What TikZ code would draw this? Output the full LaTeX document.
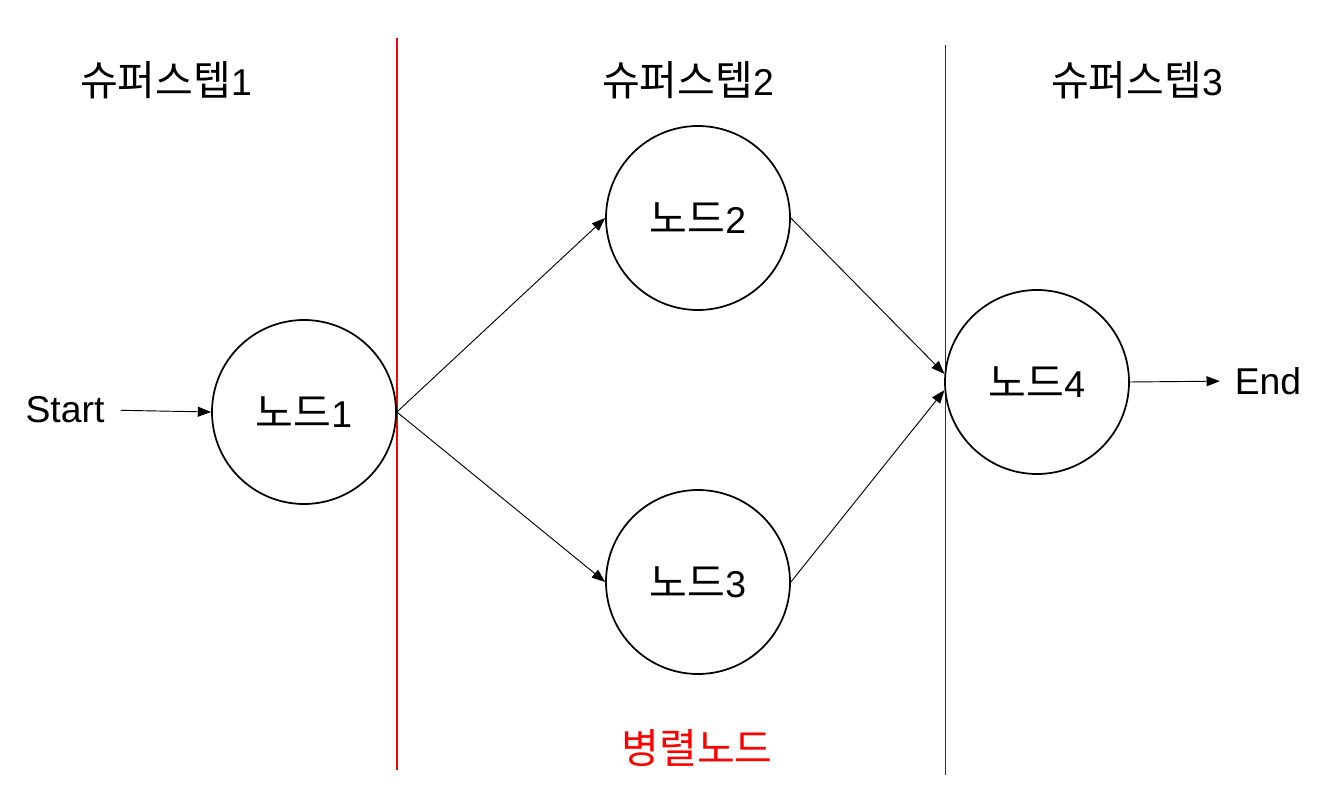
\documentclass[tikz,border=0pt]{standalone}
\usepackage{fontspec}
\setmainfont{Liberation Sans}
\newfontfamily\kr[Scale=1.1]{Noto Sans CJK KR}
\usetikzlibrary{arrows.meta}
\begin{document}
\begin{tikzpicture}[x=0.75pt,y=-0.75pt,
  txt/.style={font=\fontsize{28}{32}\selectfont, inner sep=0pt},
  stepnode/.style={circle, draw=black, line width=1.3pt, minimum size=138pt, inner sep=0pt, font=\fontsize{28}{32}\selectfont},
  conn/.style={draw=black, line width=0.7pt, -{Triangle[length=10pt,width=7.5pt]}},
  divider/.style={line width=0.8pt}]
\useasboundingbox (0,0) rectangle (1325,795);

% dividers
\draw[divider, red] (397,38) -- (397,770);
\draw[divider, line width=0.6pt, red!60!black] (945,45) -- (945,775);

% headers
\node[txt] (h1) at (166,80) {{\kr 슈퍼스텝}1};
\node[txt] (h2) at (688,80) {{\kr 슈퍼스텝}2};
\node[txt] (h3) at (1137,80) {{\kr 슈퍼스텝}3};

% nodes
\node[stepnode] (n1) at (304,412) {{\kr 노드}1};
\node[stepnode] (n2) at (698,218) {{\kr 노드}2};
\node[stepnode] (n3) at (698,582) {{\kr 노드}3};
\node[stepnode] (n4) at (1037,382) {{\kr 노드}4};

\node[txt] (start) at (65,410) {Start};
\node[txt] (end) at (1268,381) {End};

\node[txt, text=red] (par) at (697,748) {\kr 병렬노드};

% connectors
\draw[conn, shorten <=12pt] (start.east) -- (n1.west);
\draw[conn] (n1.east) -- (n2.west);
\draw[conn] (n1.east) -- (n3.west);
\draw[conn] (n2.east) -- (n4.175);
\draw[conn] (n3.east) -- (n4.185);
\draw[conn, shorten >=11pt] (n4.east) -- (end.west);
\end{tikzpicture}
\end{document}
